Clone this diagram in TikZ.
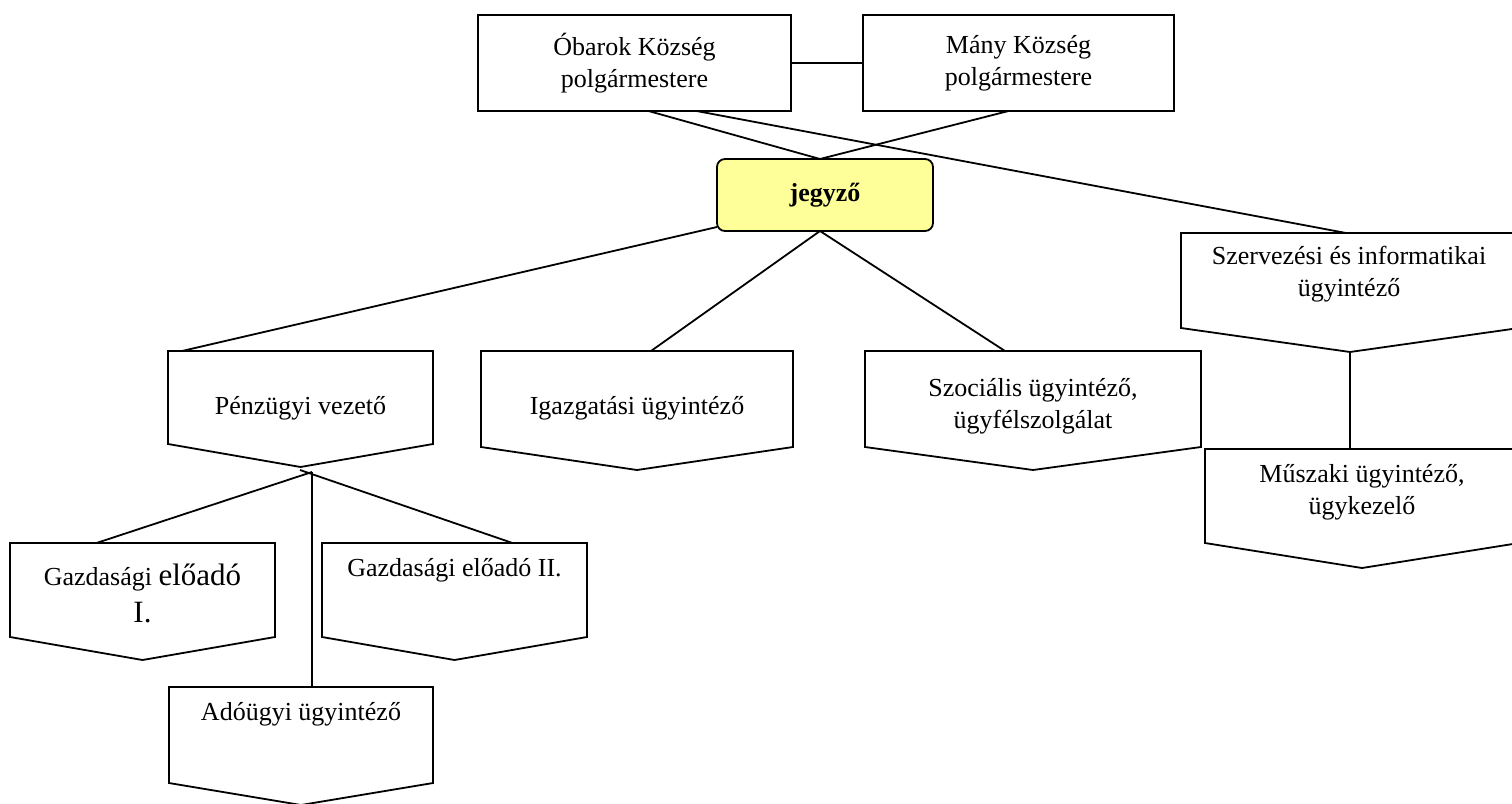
\documentclass[tikz,border=0pt]{standalone}
\usepackage{fontspec}
\setmainfont{Liberation Serif}
\usetikzlibrary{positioning}
\definecolor{jegyfill}{HTML}{FFFF99}
\newcommand{\postshape}[2]{%
  \coordinate (#1-tip) at ([yshift=-#2pt]#1.south);
  \draw[line] (#1.north west) -- (#1.north east) -- (#1.south east) -- (#1-tip) -- (#1.south west) -- cycle;}
\tikzset{
  line/.style={line width=1.8pt, black},
  unit/.style={draw=none, inner sep=0pt, outer sep=0pt},
  lbl/.style={align=center, inner sep=0pt, font=\fontsize{26}{32}\selectfont},
}

\begin{document}
\begin{tikzpicture}[x=1pt, y=-1pt]
\clip (0,0) rectangle (1512,803);
% mayors
\node [unit, draw, line, minimum width=313pt, minimum height=96pt] (obar) at (634.5,63) {};
\node [unit, draw, line, minimum width=311pt, minimum height=96pt] (many) at (1018.5,63) {};
\node [lbl] (obar-t) at (obar) {Óbarok Község\\polgármestere};
\node [lbl] (many-t) at (many) {Mány Község\\polgármestere};
\node [unit, draw, line, fill=jegyfill, rounded corners=8pt, minimum width=216pt, minimum height=72pt, font=\fontsize{26}{32}\selectfont\bfseries] (jegy) at (825,195) {jegyző};
% staff
\node [unit, minimum width=338pt, minimum height=95pt] (szerv) at (1350,280.5) {};
\node [unit, minimum width=314pt, minimum height=94pt] (mus) at (1362,496) {};
\node [unit, minimum width=265pt, minimum height=93pt] (penz) at (300.5,397.5) {};
\node [unit, minimum width=312pt, minimum height=96pt] (igaz) at (637,399) {};
\node [unit, minimum width=336pt, minimum height=96pt] (szoc) at (1033,399) {};
\node [unit, minimum width=265pt, minimum height=94pt] (gaz1) at (142.5,590) {};
\node [unit, minimum width=265pt, minimum height=94pt] (gaz2) at (454.5,590) {};
\node [unit, minimum width=264pt, minimum height=96pt] (ado) at (301,735) {};
\postshape{szerv}{24}
\postshape{mus}{25}
\postshape{penz}{23}
\postshape{igaz}{23}
\postshape{szoc}{23}
\postshape{gaz1}{23}
\postshape{gaz2}{23}
\postshape{ado}{22}
\node [lbl] (szerv-t) at (1349,274) {Szervezési és informatikai\\ügyintéző};
\node [lbl] (mus-t) at (1362,492) {Műszaki ügyintéző,\\ügykezelő};
\node [lbl] (penz-t) at (300.5,408) {Pénzügyi vezető};
\node [lbl] (igaz-t) at (637,408) {Igazgatási ügyintéző};
\node [lbl] (szoc-t) at (1033,406) {Szociális ügyintéző,\\ügyfélszolgálat};
\node [lbl, font=\fontsize{26}{37}\selectfont] (gaz1-t) at (142.5,593) {Gazdasági {\fontsize{31}{37}\selectfont előadó}\\{\fontsize{31}{37}\selectfont I.}};
\node [lbl] (gaz2-t) at (454.5,570) {Gazdasági előadó II.};
\node [lbl] (ado-t) at (301,714) {Adóügyi ügyintéző};
% connectors
\coordinate (hubA) at (312,472);
\coordinate (hubB) at (300,470);
\draw [line] (obar.east) -- (many.west);
\draw [line] ([xshift=14pt]obar.south) -- ([xshift=-5pt]jegy.north);
\draw [line] ([xshift=-10pt]many.south) -- ([xshift=-5pt]jegy.north);
\draw [line] ([xshift=62pt]obar.south) -- ([xshift=-4pt]szerv.north);
\draw [line] ([yshift=4pt]jegy.south west) -- ([xshift=14pt]penz.north west);
\draw [line] ([xshift=-5pt]jegy.south) -- ([xshift=14pt]igaz.north);
\draw [line] ([xshift=-5pt]jegy.south) -- ([xshift=-28pt]szoc.north);
\draw [line] (szerv-tip) -- (szerv-tip |- mus.north);
\draw [line] (hubA) -- ([xshift=-46pt]gaz1.north);
\draw [line] (hubB) -- ([xshift=58pt]gaz2.north);
\draw [line] (hubA) -- (hubA |- ado.north);
\end{tikzpicture}
\end{document}
